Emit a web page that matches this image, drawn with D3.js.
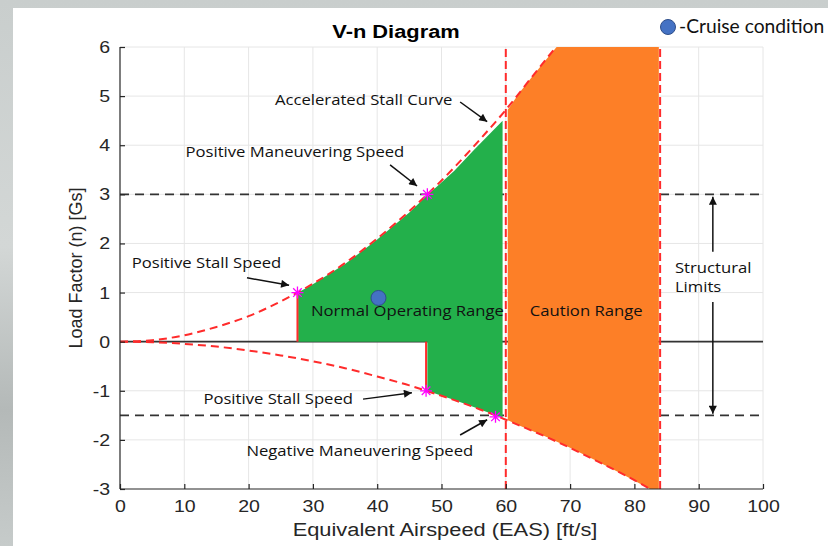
<!DOCTYPE html>
<html>
<head>
<meta charset="utf-8">
<script src="https://cdn.jsdelivr.net/npm/d3@7"></script>
<style>
  html, body { margin: 0; padding: 0; background: #fff; }
  svg { display: block; }
</style>
</head>
<body>
<svg id="chart" width="828" height="546"></svg>
<script>
// ---- data ----
const xTicks = [0, 10, 20, 30, 40, 50, 60, 70, 80, 90, 100];
const yTicks = [-3, -2, -1, 0, 1, 2, 3, 4, 5, 6];

// accelerated stall curve, positive side
const posV = [0, 5, 10, 15, 20, 25, 27.6, 30, 35, 40, 45, 47.8, 52, 56, 60, 64, 67.8];
const posN = [0, 0.03, 0.13, 0.3, 0.52, 0.82, 1.0, 1.18, 1.6, 2.1, 2.66, 3.0, 3.55, 4.12, 4.72, 5.38, 6.0];
// accelerated stall curve, negative side
const negV = [0, 5, 10, 15, 20, 25, 30, 35, 40, 45, 47.6, 52, 56, 58.4, 60, 64, 68, 72, 76, 80, 82.4];
const negN = [0, -0.01, -0.045, -0.1, -0.18, -0.28, -0.4, -0.54, -0.71, -0.89, -1.0, -1.19, -1.38, -1.5, -1.59, -1.81, -2.04, -2.29, -2.55, -2.82, -3.0];

// normal operating range outline
const greenV = [27.7, 30, 35, 40, 45, 47.8, 52, 55, 59.5, 59.5, 58.4, 55, 52, 48.2, 47.8, 47.8, 27.7];
const greenN = [1.0, 1.17, 1.58, 2.08, 2.63, 2.98, 3.48, 3.9, 4.5, -1.55, -1.5, -1.33, -1.19, -1.02, -1.0, 0, 0];
// caution range outline
const orangeV = [60.3, 62, 64, 66, 67.9, 83.8, 83.8, 82.4, 78, 74, 70, 66, 62, 60.3];
const orangeN = [4.72, 5.05, 5.38, 5.7, 6.0, 6.0, -3.0, -3.0, -2.69, -2.42, -2.16, -1.92, -1.7, -1.6];

// structural limits and speed boundaries
const limitN = [3, -1.5];
const dashSpeeds = [60, 84];
const stallV = [27.6, 47.6];
const stallN = [1, -1];

// key points (stall / maneuvering speeds)
const markV = [27.6, 47.8, 47.6, 58.4];
const markN = [1.0, 3.0, -1.0, -1.53];

// cruise condition
const cruiseV = [40.2];
const cruiseN = [0.89];

// annotations: text, text position, arrow tail, arrow head
const noteText = ["Accelerated Stall Curve", "Positive Maneuvering Speed", "Positive Stall Speed", "Positive Stall Speed", "Negative Maneuvering Speed"];
const noteV = [37.9, 27.2, 13.45, 24.6, 37.3];
const noteN = [4.92, 3.86, 1.60, -1.17, -2.23];
const arrowV0 = [52.9, 42.0, 19.75, 37.8, 52.9, 92.2, 92.2];
const arrowN0 = [4.88, 3.60, 1.30, -1.17, -1.90, 1.83, 0.81];
const arrowV1 = [57.1, 46.2, 26.3, 45.4, 57.1, 92.2, 92.2];
const arrowN1 = [4.48, 3.17, 1.15, -1.04, -1.59, 2.95, -1.47];

const regionText = ["Normal Operating Range", "Caution Range"];
const regionV = [44.7, 72.5];
const regionN = [0.63, 0.63];

// ---- drawing ----
const svg = d3.select("#chart");
const W = 828, H = 546;
const SX = 1.15;               // horizontal widening of lettering
const sans = "'Liberation Sans', Arial, sans-serif";
const noteFont = "'Open Sans', Lato, sans-serif";

const x = d3.scaleLinear().domain([0, 100]).range([120, 763]);
const y = d3.scaleLinear().domain([-3, 6]).range([489, 47]);

// places a horizontally widened text label at (px, py)
function label(parent, px, py, str, sx = SX) {
  return parent.append("text")
    .attr("transform", `translate(${px},${py}) scale(${sx},1)`)
    .text(str);
}

const defs = svg.append("defs");
const bg = defs.append("linearGradient").attr("id", "bgGrad").attr("x1", 0).attr("y1", 0).attr("x2", 0).attr("y2", 1);
bg.append("stop").attr("offset", "0%").attr("stop-color", "#c9cecd");
bg.append("stop").attr("offset", "45%").attr("stop-color", "#d3d7d6");
bg.append("stop").attr("offset", "75%").attr("stop-color", "#b4b9b8");
bg.append("stop").attr("offset", "100%").attr("stop-color", "#c6cbca");

defs.append("marker")
  .attr("id", "arrowHead")
  .attr("viewBox", "0 0 10 10")
  .attr("refX", 10).attr("refY", 5)
  .attr("markerWidth", 10).attr("markerHeight", 8)
  .attr("markerUnits", "userSpaceOnUse")
  .attr("orient", "auto")
  .append("path").attr("d", "M0,0 L10,5 L0,10 Z").attr("fill", "#111");

const clip = defs.append("clipPath").attr("id", "plotClip");
clip.append("rect").attr("x", x(0)).attr("y", y(6)).attr("width", x(100) - x(0)).attr("height", y(-3) - y(6));

// backdrop
svg.append("rect").attr("width", W).attr("height", H).attr("fill", "url(#bgGrad)");
svg.append("rect").attr("x", 13).attr("y", 8).attr("width", W - 13).attr("height", H - 8).attr("fill", "#ffffff");

// grid
const grid = svg.append("g").attr("stroke", "#e6e6e6").attr("stroke-width", 1);
grid.selectAll("line.gx").data(xTicks.slice(1)).join("line")
  .attr("x1", d => x(d)).attr("x2", d => x(d)).attr("y1", y(-3)).attr("y2", y(6));
grid.selectAll("line.gy").data(yTicks.slice(1)).join("line")
  .attr("x1", x(0)).attr("x2", x(100)).attr("y1", d => y(d)).attr("y2", d => y(d));

const plot = svg.append("g").attr("clip-path", "url(#plotClip)");

// zero line
plot.append("line")
  .attr("x1", x(0)).attr("x2", x(100)).attr("y1", y(0)).attr("y2", y(0))
  .attr("stroke", "#333").attr("stroke-width", 1.6);

// structural limit lines
plot.selectAll("line.limit").data(limitN).join("line")
  .attr("x1", x(0)).attr("x2", x(100)).attr("y1", d => y(d)).attr("y2", d => y(d))
  .attr("stroke", "#333").attr("stroke-width", 1.8).attr("stroke-dasharray", "9,6");

// regions
const area = d3.line().x(d => x(d[0])).y(d => y(d[1]));
plot.append("path")
  .attr("d", area(greenV.map((v, i) => [v, greenN[i]])) + "Z")
  .attr("fill", "#23b04b");
plot.append("path")
  .attr("d", area(orangeV.map((v, i) => [v, orangeN[i]])) + "Z")
  .attr("fill", "#fd7f27");

// stall speed verticals
plot.selectAll("line.stall").data(stallV).join("line")
  .attr("x1", d => x(d)).attr("x2", d => x(d))
  .attr("y1", y(0)).attr("y2", (d, i) => y(stallN[i]))
  .attr("stroke", "#ff2b2b").attr("stroke-width", 2);

// accelerated stall curves
const curve = d3.line().x(d => x(d[0])).y(d => y(d[1])).curve(d3.curveMonotoneX);
[[posV, posN], [negV, negN]].forEach(([vs, ns]) => {
  plot.append("path")
    .attr("d", curve(vs.map((v, i) => [v, ns[i]])))
    .attr("fill", "none").attr("stroke", "#ff2b2b").attr("stroke-width", 2)
    .attr("stroke-dasharray", "8,5");
});

// speed boundary dashed verticals
plot.selectAll("line.speed").data(dashSpeeds).join("line")
  .attr("x1", d => x(d)).attr("x2", d => x(d)).attr("y1", y(-3)).attr("y2", y(6))
  .attr("stroke", "#ff2b2b").attr("stroke-width", 2).attr("stroke-dasharray", "8,4");

// asterisk markers
const star = plot.append("g").attr("stroke", "#ff00ff").attr("stroke-width", 1.3);
markV.forEach((v, i) => {
  const cx = x(v), cy = y(markN[i]), r = 6, d = 4.3;
  star.append("path").attr("d",
    `M${cx - r},${cy}L${cx + r},${cy}M${cx},${cy - r}L${cx},${cy + r}` +
    `M${cx - d},${cy - d}L${cx + d},${cy + d}M${cx - d},${cy + d}L${cx + d},${cy - d}`);
});

// cruise point
plot.selectAll("circle.cruise").data(cruiseV).join("circle")
  .attr("cx", d => x(d)).attr("cy", (d, i) => y(cruiseN[i])).attr("r", 7.5)
  .attr("fill", "#4472c4").attr("stroke", "#2f4f8a").attr("stroke-width", 1);

// axes
const axisColor = "#262626";
const plain = d => String(d);
const xAxis = svg.append("g").attr("transform", `translate(0,${y(-3)})`)
  .call(d3.axisBottom(x).tickValues(xTicks).tickSize(-5).tickPadding(11).tickFormat(plain));
const yAxis = svg.append("g").attr("transform", `translate(${x(0)},0)`)
  .call(d3.axisLeft(y).tickValues(yTicks).tickSize(-5).tickPadding(10).tickFormat(plain));
[xAxis, yAxis].forEach(g => {
  g.select(".domain").attr("stroke", axisColor).attr("stroke-width", 1.2);
  g.selectAll(".tick line").attr("stroke", axisColor).attr("stroke-width", 1.2);
  g.selectAll(".tick text").attr("fill", axisColor)
    .style("font-family", sans).style("font-size", "17px");
});
xAxis.selectAll(".tick text").attr("transform", `scale(${SX},1)`);
yAxis.selectAll(".tick text").attr("x", -10 / SX).attr("transform", `scale(${SX},1)`);
// keep the axis lines plain (no end caps)
xAxis.select(".domain").attr("d", `M${x(0)},0H${x(100)}`);
yAxis.select(".domain").attr("d", `M0,${y(-3)}V${y(6)}`);

// titles
label(svg, 396, 38, "V-n Diagram").attr("text-anchor", "middle")
  .style("font-family", sans).style("font-size", "19px")
  .style("font-weight", "bold").attr("fill", "#000");
label(svg, 445, 536, "Equivalent Airspeed (EAS) [ft/s]").attr("text-anchor", "middle")
  .style("font-family", sans).style("font-size", "19px").attr("fill", axisColor);
svg.append("text").attr("transform", `translate(82,${(y(-3) + y(6)) / 2}) rotate(-90)`)
  .attr("text-anchor", "middle")
  .style("font-family", sans).style("font-size", "18px")
  .attr("fill", axisColor).text("Load Factor (n) [Gs]");

// annotations
const notes = svg.append("g").style("font-family", noteFont).style("font-size", "14.5px").attr("fill", "#111");
noteText.forEach((t, i) => {
  label(notes, x(noteV[i]), y(noteN[i]), t).attr("dy", "0.35em").attr("text-anchor", "middle");
});
regionText.forEach((t, i) => {
  label(notes, x(regionV[i]), y(regionN[i]), t).attr("dy", "0.35em")
    .attr("text-anchor", "middle").style("font-size", "14.5px");
});
label(notes, x(86.3), y(1.5), "Structural").attr("dy", "0.35em");
label(notes, x(86.3), y(1.11), "Limits").attr("dy", "0.35em");

const arrows = svg.append("g").attr("stroke", "#111").attr("stroke-width", 1.5);
arrowV0.forEach((v, i) => {
  arrows.append("line")
    .attr("x1", x(v)).attr("y1", y(arrowN0[i]))
    .attr("x2", x(arrowV1[i])).attr("y2", y(arrowN1[i]))
    .attr("marker-end", "url(#arrowHead)");
});

// legend
const legend = svg.append("g");
legend.append("circle").attr("cx", 668).attr("cy", 27).attr("r", 7.5)
  .attr("fill", "#4472c4").attr("stroke", "#2f4f8a").attr("stroke-width", 1);
label(legend, 679, 33, "-Cruise condition", 1.04)
  .style("font-family", "Lato, 'Open Sans', sans-serif").style("font-size", "18.5px")
  .attr("fill", "#111");
</script>
</body>
</html>
